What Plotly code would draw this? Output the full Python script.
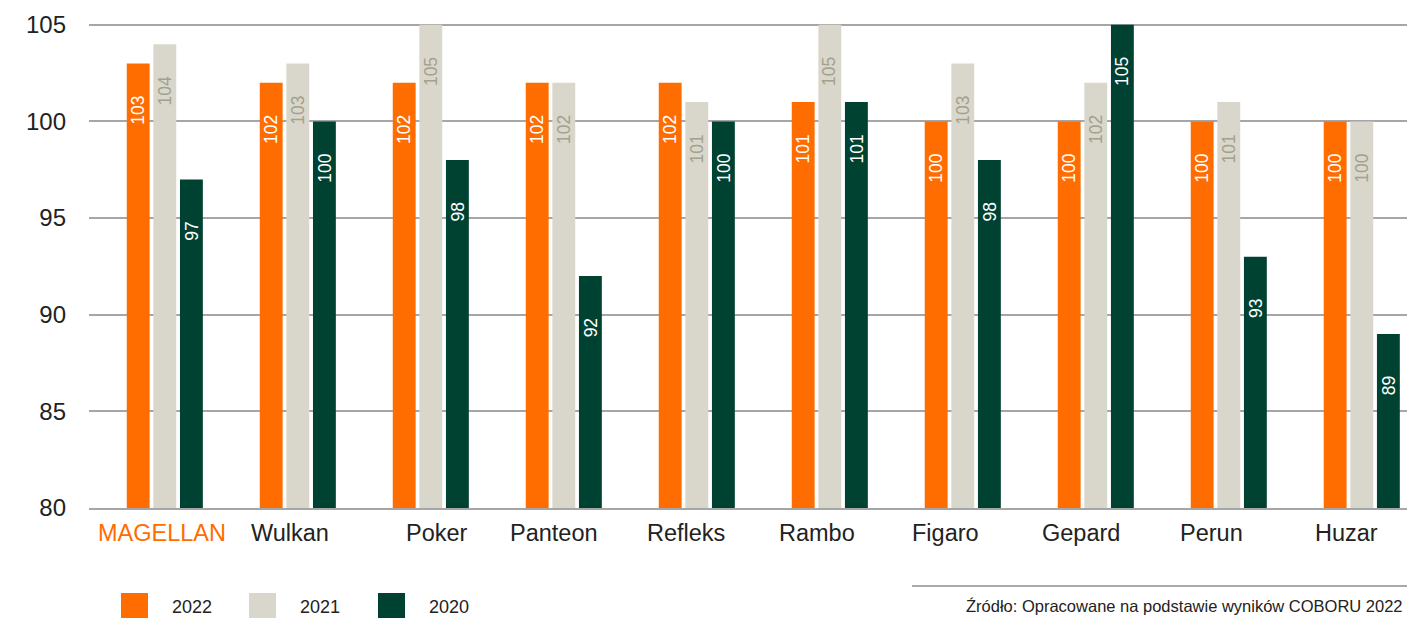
import plotly.graph_objects as go

# Odmiany i wyniki względne (wzorzec = 100) w kolejnych latach
varieties = ["MAGELLAN", "Wulkan", "Poker", "Panteon", "Refleks",
             "Rambo", "Figaro", "Gepard", "Perun", "Huzar"]
years = ["2022", "2021", "2020"]
values_2022 = [103, 102, 102, 102, 102, 101, 100, 100, 100, 100]
values_2021 = [104, 103, 105, 102, 101, 105, 103, 102, 101, 100]
values_2020 = [97, 100, 98, 92, 100, 101, 98, 105, 93, 89]
y_ticks = [80, 85, 90, 95, 100, 105]
source_text = "Źródło: Opracowane na podstawie wyników COBORU 2022"

series = [values_2022, values_2021, values_2020]
bar_colors = ["#FF6C00", "#D9D7CB", "#004232"]
label_colors = ["#FFFFFF", "#A3A08C", "#FFFFFF"]
label_dx = [-27, 0, 27]
# przesunięcie podpisów odmian względem środka grupy (px)
name_dx = [-3, -8, 6, -10, -11, -13, -17, -15, -17, -15]
name_colors = ["#FF6C00"] + ["#222222"] * 9

FONT = "Liberation Sans, Arial, sans-serif"

fig = go.Figure()
for name, vals, col in zip(years, series, bar_colors):
    fig.add_trace(go.Bar(x=varieties, y=vals, name=name, marker_color=col,
                         marker_line_width=0, showlegend=False))

annotations = []
# Pionowe etykiety wartości na słupkach
for vals, tcol, dx in zip(series, label_colors, label_dx):
    for cat, v in zip(varieties, vals):
        annotations.append(dict(
            x=cat, y=v, xref="x", yref="y", text=str(v), showarrow=False,
            textangle=-90, xshift=dx, yshift=-63, yanchor="bottom",
            xanchor="center", font=dict(family=FONT, size=17.5, color=tcol)))

# Podpisy odmian pod osią
for cat, dx, col in zip(varieties, name_dx, name_colors):
    annotations.append(dict(
        x=cat, y=0, xref="x", yref="paper", text=cat, showarrow=False,
        xshift=dx, yshift=-25, yanchor="middle", xanchor="center",
        font=dict(family=FONT, size=23.5, color=col)))

# Własna legenda pod wykresem
W, H, L, B = 1318.0, 489.0, 89.0, 508.0
def px(xp):
    return (xp - L) / W
def py(yp):
    return (B - yp) / H

shapes = []
leg_x = [121, 249, 378]
for name, col, x0 in zip(years, bar_colors, leg_x):
    shapes.append(dict(type="rect", xref="paper", yref="paper",
                       x0=px(x0), x1=px(x0 + 27), y0=py(593), y1=py(620),
                       fillcolor=col, line_width=0))
    annotations.append(dict(x=px(x0 + 49), y=py(607), xref="paper", yref="paper",
                            text=name, showarrow=False, xanchor="left",
                            yanchor="middle",
                            font=dict(family=FONT, size=18, color="#222222")))

# Źródło danych
shapes.append(dict(type="line", xref="paper", yref="paper",
                   x0=px(912), x1=1, y0=py(586), y1=py(586),
                   line=dict(color="#555555", width=1)))
annotations.append(dict(x=px(1405), y=py(606), xref="paper", yref="paper",
                        text=source_text, showarrow=False, xanchor="right",
                        yanchor="middle",
                        font=dict(family=FONT, size=16.5, color="#222222")))

fig.update_layout(
    width=1407, height=618,
    margin=dict(l=89, r=0, t=19, b=110),
    paper_bgcolor="white", plot_bgcolor="white",
    barmode="group", bargap=0.4, bargroupgap=0.14,
    font=dict(family=FONT, color="#222222"),
    xaxis=dict(type="category", range=[-0.57, 9.34], showgrid=False,
               showticklabels=False, showline=True, linecolor="#A6A6A6",
               linewidth=2, ticks=""),
    yaxis=dict(range=[80, 105.3], tickmode="array", tickvals=y_ticks,
               showgrid=True, gridcolor="#A6A6A6", gridwidth=2,
               zeroline=False, showline=False, ticks="",
               ticklabelstandoff=22,
               tickfont=dict(family=FONT, size=24, color="#222222")),
    shapes=shapes, annotations=annotations,
)

fig.write_html("out.html")
